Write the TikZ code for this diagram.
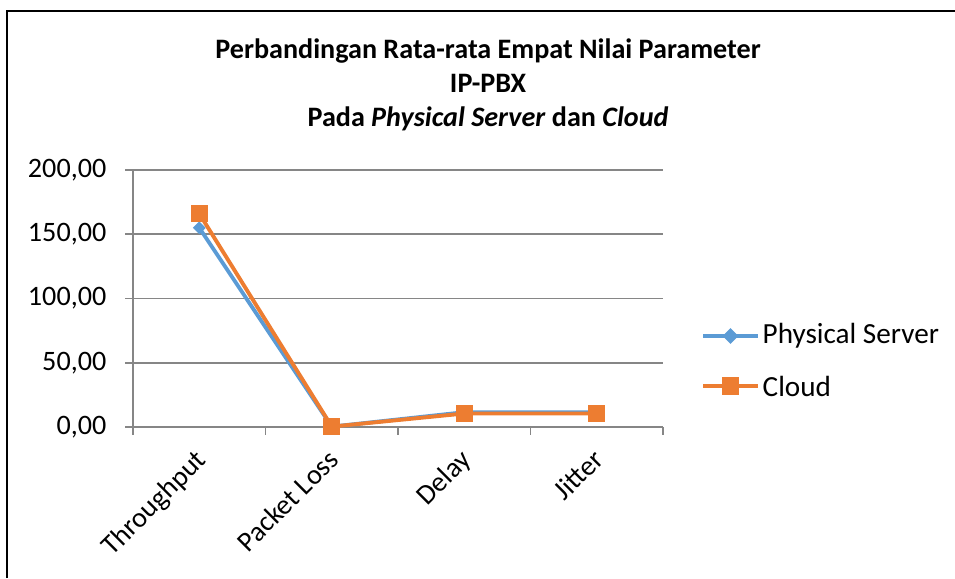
\documentclass[tikz,border=0pt]{standalone}
\usepackage{fontspec}
\setmainfont{Carlito}
\usetikzlibrary{positioning, shapes.geometric, calc}
\definecolor{psblue}{HTML}{5B9BD5}
\definecolor{cloudorange}{HTML}{ED7D31}
\definecolor{gridgray}{HTML}{868686}

\begin{document}
\begin{tikzpicture}[
    x=0.01cm, y=0.01cm,
    grid/.style={draw=gridgray, line width=0.45pt},
    lbl/.style={font=\fontsize{8}{9}\selectfont, inner sep=0pt},
    key/.style={font=\fontsize{8.3}{9}\selectfont, inner sep=0pt, anchor=west},
    ttl/.style={font=\fontsize{8}{9.64}\selectfont\bfseries, inner sep=0pt, align=center},
    psline/.style={draw=psblue, line width=1.1pt},
    cloudline/.style={draw=cloudorange, line width=1.1pt},
    psmark/.style={diamond, fill=psblue, inner sep=0pt, minimum size=4.6pt},
    cloudmark/.style={rectangle, fill=cloudorange, inner sep=0pt, minimum size=4.9pt}]
    \useasboundingbox (0,0) rectangle (955,578);
    % Frame
    \draw[line width=0.6pt] (7,0) -- (7,567) -- (955,567);
    % Title
    \node[ttl] (title) at (488,493) {Perbandingan Rata-rata Empat Nilai Parameter\\IP-PBX\\Pada \textit{Physical Server} dan \textit{Cloud}};
    % Grid and value axis
    \foreach \v/\t in {0/{0,00}, 50/{50,00}, 100/{100,00}, 150/{150,00}, 200/{200,00}} {
        \draw[grid] (125,151+\v*1.285) -- (663,151+\v*1.285);
        \node[lbl, anchor=east] (val\v) at (107,151+\v*1.285) {\t};
    }
    \draw[grid] (133,151) -- (133,408);
    \foreach \i in {0,...,4}
        \draw[grid] (133+\i*132.5,151) -- ++(0,-8);
    % Categories
    \foreach \i/\c in {1/Throughput, 2/Packet Loss, 3/Delay, 4/Jitter}
        \node[lbl, rotate=45, anchor=north east] (cat\i) at (61.3+\i*132.5,131) {\c};
    % Data points
    \foreach \i/\v in {1/155, 2/0.3, 3/11.5, 4/11.5}
        \coordinate (ps\i) at (66.8+\i*132.5,151+\v*1.285);
    \foreach \i/\v in {1/166, 2/0.3, 3/10.5, 4/10.5}
        \coordinate (cl\i) at (66.8+\i*132.5,151+\v*1.285);
    % Series
    \draw[psline] (ps1) -- (ps2) -- (ps3) -- (ps4);
    \foreach \i in {1,...,4}
        \node[psmark, minimum size=3.8pt] at (ps\i) {};
    \draw[cloudline] (cl1) -- (cl2) -- (cl3) -- (cl4);
    \foreach \i in {1,...,4}
        \node[cloudmark] at (cl\i) {};
    % Legend
    \coordinate (psA) at (703,242);
    \coordinate (psB) at (758,242);
    \coordinate (clA) at (703,192);
    \coordinate (clB) at (758,192);
    \draw[psline] (psA) -- (psB);
    \node[psmark] (psKey) at ($(psA)!0.5!(psB)$) {};
    \node[key] (psText) at (762,242) {Physical Server};
    \draw[cloudline] (clA) -- (clB);
    \node[cloudmark] (clKey) at ($(clA)!0.5!(clB)$) {};
    \node[key] (clText) at (762,192) {Cloud};
\end{tikzpicture}
\end{document}
